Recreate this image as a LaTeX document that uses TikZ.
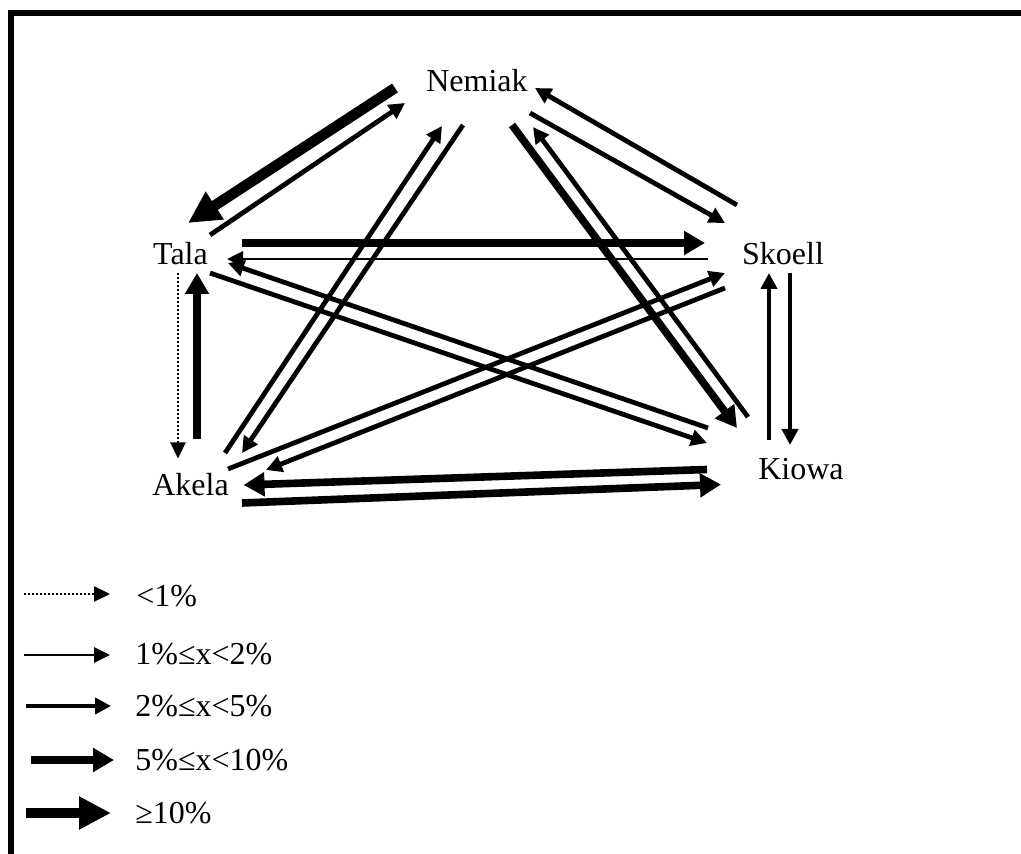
\documentclass[tikz,border=0pt]{standalone}
\usepackage{fontspec}
\setmainfont{Liberation Serif}
\usetikzlibrary{arrows.meta}

\begin{document}
\begin{tikzpicture}[
  x=0.5pt, y=-0.5pt,
  firm/.style = {font=\fontsize{16pt}{19pt}\selectfont, inner sep=0pt},
  keytext/.style = {font=\fontsize{16pt}{19pt}\selectfont, inner sep=0pt, anchor=west},
  w0/.style = {-{Triangle[length=8pt, width=7.5pt]}, line width=1.2pt, dash pattern=on 1.1pt off 0.9pt},
  w1/.style = {-{Triangle[length=8pt, width=7.5pt]}, line width=1.35pt},
  w2/.style = {-{Triangle[length=8pt, width=8pt]}, line width=2.4pt},
  w3/.style = {-{Triangle[length=10.5pt, width=11.5pt]}, line width=3.8pt},
  w4/.style = {-{Triangle[length=16pt, width=15.5pt]}, line width=5.3pt},
  frame/.style = {line width=2.75pt}
]
  \useasboundingbox (0,0) rectangle (1021,854);
  \draw[frame] (10.8,854) -- (10.8,13) -- (1021,13);

  % the five firms
  \node[firm] (nemiak) at (477,80.5)  {Nemiak};
  \node[firm] (tala)   at (180.5,253.5) {Tala};
  \node[firm] (skoell) at (783,253.5) {Skoell};
  \node[firm] (akela)  at (190.5,484.5) {Akela};
  \node[firm] (kiowa)  at (801,469.5) {Kiowa};

  % flows
  \draw[w4] ([shift={(-82,7.5)}]nemiak.center) -- ([shift={(7.5,-30.5)}]tala.center);
  \draw[w2] ([shift={(29.5,-18.5)}]tala.center) -- ([shift={(-72,22.5)}]nemiak.center);
  \draw[w2] ([shift={(34.5,-31.5)}]akela.center) -- ([shift={(-35,45.5)}]nemiak.center);
  \draw[w2] ([shift={(-14,44.5)}]nemiak.center) -- ([shift={(51.5,-31.5)}]akela.center);
  \draw[w3] ([shift={(35,44.5)}]nemiak.center) -- ([shift={(-64,-41.5)}]kiowa.center);
  \draw[w2] ([shift={(-53,-52.5)}]kiowa.center) -- ([shift={(56,46.5)}]nemiak.center);
  \draw[w2] ([shift={(53,32.5)}]nemiak.center) -- ([shift={(-58,-30.5)}]skoell.center);
  \draw[w2] ([shift={(-46,-48.5)}]skoell.center) -- ([shift={(58,7.5)}]nemiak.center);
  \draw[w3] ([shift={(61.5,-10.5)}]tala.center) -- ([shift={(-78,-10.5)}]skoell.center);
  \draw[w1] ([shift={(-75,5.5)}]skoell.center) -- ([shift={(46.5,5.5)}]tala.center);
  \draw[w2] ([shift={(29.5,19.5)}]tala.center) -- ([shift={(-94,-26.5)}]kiowa.center);
  \draw[w2] ([shift={(-93,-41.5)}]kiowa.center) -- ([shift={(47.5,9.5)}]tala.center);
  \draw[w2] ([shift={(37.5,-15.5)}]akela.center) -- ([shift={(-58,19.5)}]skoell.center);
  \draw[w2] ([shift={(-58,34.5)}]skoell.center) -- ([shift={(75.5,-14.5)}]akela.center);
  \draw[w3] ([shift={(6.5,-45.5)}]akela.center) -- ([shift={(16.5,19.5)}]tala.center);
  \draw[w0] ([shift={(-2.5,19.5)}]tala.center) -- ([shift={(-12.5,-26)}]akela.center);
  \draw[w3] ([shift={(-94,0)}]kiowa.center) -- ([shift={(53,0.5)}]akela.center);
  \draw[w3] ([shift={(51.5,18.5)}]akela.center) -- ([shift={(-80,15)}]kiowa.center);
  \draw[w2] ([shift={(7,19.5)}]skoell.center) -- ([shift={(-11,-24.5)}]kiowa.center);
  \draw[w2] ([shift={(-32,-29.5)}]kiowa.center) -- ([shift={(-14,19.5)}]skoell.center);

  % key
  \coordinate (k0a) at (24,594);  \coordinate (k0b) at (110,594);
  \coordinate (k1a) at (24,655);  \coordinate (k1b) at (110,655);
  \coordinate (k2a) at (26,706);  \coordinate (k2b) at (111,706);
  \coordinate (k3a) at (31,760);  \coordinate (k3b) at (114,760);
  \coordinate (k4a) at (26,813);  \coordinate (k4b) at (111,813);
  \draw[w0] (k0a) -- (k0b);
  \draw[w1] (k1a) -- (k1b);
  \draw[w2] (k2a) -- (k2b);
  \draw[w3] (k3a) -- (k3b);
  \draw[w4] (k4a) -- (k4b);
  \node[keytext] (k0t) at (136,596) {<1\%};
  \node[keytext] (k1t) at (135,654) {1\%≤x<2\%};
  \node[keytext] (k2t) at (135,706) {2\%≤x<5\%};
  \node[keytext] (k3t) at (135,760) {5\%≤x<10\%};
  \node[keytext] (k4t) at (135,813) {≥10\%};
\end{tikzpicture}
\end{document}
